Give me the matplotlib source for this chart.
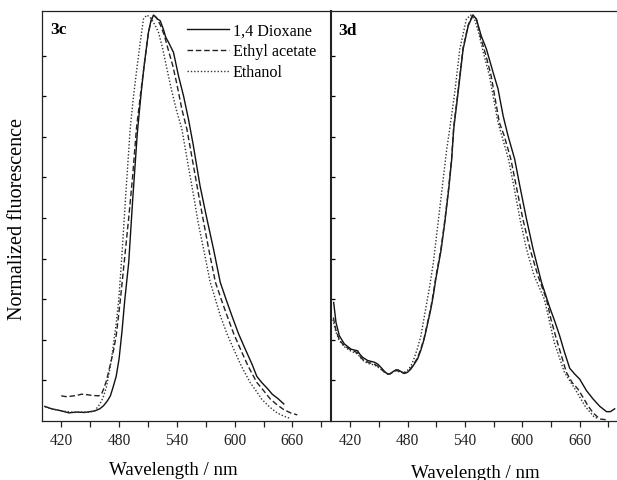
import matplotlib
matplotlib.use("Agg")
import matplotlib.pyplot as plt
from matplotlib.ticker import FixedLocator, MultipleLocator
from matplotlib.lines import Line2D

plt.rcParams['font.family'] = ['Liberation Serif', 'DejaVu Serif']

# ---------------- data: panel 3c ----------------
c_diox_wl = [403, 410, 420, 428, 436, 444, 450, 455, 460, 464, 468, 471, 474, 477, 480, 483, 486,
             490, 494, 499, 503, 506, 510.5, 513, 515.7, 518, 520, 522.7, 526, 528.5, 531.3, 536.5,
             541.7, 547, 552, 557, 564, 571, 578, 585, 591, 597, 604, 611, 618, 623, 628, 634, 639,
             645, 651]
c_diox_v = [0.036, 0.03, 0.025, 0.02, 0.022, 0.021, 0.023, 0.025, 0.03, 0.038, 0.05, 0.062, 0.085,
            0.11, 0.153, 0.22, 0.30, 0.39, 0.54, 0.711, 0.81, 0.875, 0.957, 0.985, 1.0, 0.995, 0.99,
            0.986, 0.965, 0.945, 0.933, 0.908, 0.85, 0.80, 0.744, 0.68, 0.58, 0.50, 0.424, 0.342,
            0.30, 0.26, 0.215, 0.177, 0.14, 0.11, 0.095, 0.08, 0.066, 0.055, 0.042]

c_etac_wl = [420, 425, 430, 436, 441, 446, 452, 459, 462, 464, 467, 469, 472, 474.5, 477, 479,
             481.4, 484, 487, 490, 494, 498, 502, 506, 510, 513, 516, 519, 523, 527, 531, 535.8,
             540, 545.2, 550.4, 556, 562, 567, 573, 580, 586, 592, 599, 606, 614, 623, 630, 637,
             644, 651, 658, 665]
c_etac_v = [0.062, 0.06, 0.061, 0.063, 0.066, 0.065, 0.063, 0.062, 0.068, 0.079, 0.1, 0.12, 0.15,
            0.177, 0.21, 0.25, 0.30, 0.36, 0.43, 0.50, 0.60, 0.72, 0.80, 0.875, 0.95, 0.985, 1.0,
            0.993, 0.975, 0.95, 0.915, 0.875, 0.83, 0.768, 0.719, 0.645, 0.565, 0.50, 0.424,
            0.342, 0.30, 0.26, 0.215, 0.177, 0.135, 0.095, 0.075, 0.054, 0.04, 0.028, 0.02, 0.015]

c_etoh_wl = [403, 410, 420, 430, 440, 450, 455, 459, 462, 464, 467, 469, 472, 474.5, 477, 479.7,
             483, 487, 491.5, 495, 498.4, 502, 505.3, 508.8, 512, 515, 518, 521, 525, 529, 534,
             539.3, 545.2, 551, 557, 562, 567.7, 574.6, 580, 585, 592, 599, 607, 616, 622, 628,
             636, 644, 651, 658]
c_etoh_v = [0.035, 0.03, 0.025, 0.022, 0.022, 0.022, 0.026, 0.038, 0.05, 0.062, 0.085, 0.11, 0.15,
            0.195, 0.24, 0.30, 0.41, 0.56, 0.719, 0.80, 0.867, 0.933, 0.99, 1.0, 0.995, 0.985,
            0.972, 0.957, 0.92, 0.875, 0.82, 0.768, 0.719, 0.64, 0.56, 0.49, 0.424, 0.342, 0.30,
            0.26, 0.215, 0.177, 0.135, 0.095, 0.075, 0.054, 0.035, 0.02, 0.012, 0.006]

# ---------------- data: panel 3d ----------------
d_diox_wl = [402.8, 405.2, 408.7, 413.9, 420.9, 424, 427.8, 430, 433, 438.3, 445.2, 449, 452.2,
             456, 459.2, 462, 465, 467.8, 470, 473, 476.5, 480, 483.5, 487, 490.5, 494, 497.4,
             501, 504.4, 507, 509.6, 515, 519, 523, 526, 528.3, 532.9, 538.1, 543.5, 548.5, 552,
             557, 562.5, 569.4, 574.6, 579.9, 585, 592, 597.3, 604.3, 611.2, 620, 628.6, 634, 639,
             644, 649.5, 655, 660, 667, 674, 681, 688, 692, 696.5]
d_diox_v = [0.292, 0.243, 0.21, 0.19, 0.177, 0.175, 0.173, 0.165, 0.157, 0.149, 0.145, 0.14,
            0.132, 0.122, 0.116, 0.116, 0.122, 0.126, 0.126, 0.122, 0.118, 0.12, 0.128, 0.14,
            0.153, 0.175, 0.202, 0.24, 0.276, 0.31, 0.35, 0.42, 0.49, 0.57, 0.64, 0.72, 0.81,
            0.916, 0.974, 1.0, 0.99, 0.949, 0.916, 0.859, 0.818, 0.752, 0.703, 0.645, 0.58, 0.498,
            0.424, 0.342, 0.28, 0.245, 0.21, 0.17, 0.13, 0.115, 0.103, 0.075, 0.054, 0.036, 0.023,
            0.023, 0.03]

d_etac_wl = [402.5, 405, 408.7, 413.9, 420.9, 424, 427.8, 430, 433, 438.3, 445.2, 449, 452.2, 456,
             459.2, 462, 465, 467.8, 470, 473, 476.5, 480, 483.5, 487, 490.5, 494, 497.4, 501,
             504.4, 507, 509.6, 515, 519, 523, 526, 528.3, 532.9, 538.1, 543.5, 548, 552, 557, 562,
             567.4, 576, 581, 588, 593.5, 600.5, 608, 616, 625.2, 630, 635.6, 641, 646, 652, 658,
             663, 668.5, 674, 680.8, 687.8]
d_etac_v = [0.255, 0.225, 0.2, 0.185, 0.175, 0.172, 0.168, 0.16, 0.152, 0.145, 0.14, 0.135, 0.128,
            0.12, 0.115, 0.117, 0.122, 0.124, 0.124, 0.12, 0.117, 0.12, 0.13, 0.142, 0.156, 0.178,
            0.205, 0.243, 0.28, 0.315, 0.355, 0.425, 0.495, 0.575, 0.645, 0.725, 0.815, 0.92,
            0.976, 1.0, 0.99, 0.94, 0.9, 0.85, 0.735, 0.703, 0.645, 0.58, 0.498, 0.424, 0.36,
            0.30, 0.25, 0.202, 0.16, 0.12, 0.095, 0.079, 0.06, 0.038, 0.02, 0.005, 0.003]

d_etoh_wl = [402, 405, 408.7, 413.9, 420.9, 427.8, 433, 438.3, 445.2, 452.2, 459.2, 463, 467.8,
             473, 476.5, 480, 483.5, 487, 490.5, 494, 497, 500, 503, 507, 510, 514, 518, 521,
             524.1, 529.4, 534.6, 541.5, 546, 550, 554, 558, 565.6, 574.6, 578.5, 585.5, 591,
             597.5, 604.3, 612, 623, 633.6, 644, 656, 666, 675, 680]
d_etoh_v = [0.25, 0.22, 0.198, 0.183, 0.172, 0.165, 0.15, 0.142, 0.138, 0.128, 0.115, 0.118,
            0.124, 0.12, 0.12, 0.125, 0.135, 0.155, 0.18, 0.21, 0.25, 0.29, 0.33, 0.39, 0.45,
            0.53, 0.61, 0.67, 0.72, 0.81, 0.916, 0.99, 1.0, 0.99, 0.96, 0.92, 0.85, 0.735, 0.703,
            0.645, 0.58, 0.498, 0.424, 0.36, 0.30, 0.192, 0.12, 0.075, 0.035, 0.01, 0.005]

series_labels = ["1,4 Dioxane", "Ethyl acetate", "Ethanol"]
panel_labels = ["3c", "3d"]
xticks_major = [420, 480, 540, 600, 660]
xlabel = "Wavelength / nm"
ylabel = "Normalized fluorescence"

# ---------------- figure ----------------
W, H = 617, 481
fig = plt.figure(figsize=(W / 100, H / 100), dpi=100)

def ax_rect(x0, x1, y0, y1):
    return [x0 / W, 1 - y1 / H, (x1 - x0) / W, (y1 - y0) / H]

ax1 = fig.add_axes(ax_rect(42, 331, 12, 422))
ax2 = fig.add_axes(ax_rect(331, 618, 12, 422))

styles = [dict(color='#111111', lw=1.0, ls='-'),
          dict(color='#222222', lw=1.0, ls=(0, (4, 2))),
          dict(color='#333333', lw=1.0, ls=(0, (1, 1.4)))]

for wl, v, st in zip([c_diox_wl, c_etac_wl, c_etoh_wl], [c_diox_v, c_etac_v, c_etoh_v], styles):
    ax1.plot(wl, v, **st)
for wl, v, st in zip([d_diox_wl, d_etac_wl, d_etoh_wl], [d_diox_v, d_etac_v, d_etoh_v], styles):
    ax2.plot(wl, v, **st)

for ax in (ax1, ax2):
    ax.set_xlim(400, 700)
    ax.set_ylim(0, 1.01)
    ax.xaxis.set_major_locator(FixedLocator(xticks_major))
    ax.xaxis.set_minor_locator(MultipleLocator(30))
    ax.tick_params(axis='x', which='both', direction='out', length=4, width=0.9,
                   labelsize=11.2, pad=4, colors='#222222')
    ax.yaxis.set_major_locator(FixedLocator([0.1 * i for i in range(1, 10)]))
    ax.tick_params(axis='y', which='both', direction='in', length=3, width=0.9,
                   labelleft=False, left=True, right=False)
    ax.yaxis.set_minor_locator(FixedLocator([]))
    for s in ax.spines.values():
        s.set_linewidth(0.9)
        s.set_color('#222222')

ax1.spines['right'].set_visible(False)
ax2.spines['right'].set_visible(False)
ax2.spines['left'].set_linewidth(1.5)

ax1.text(0.028, 0.975, panel_labels[0], transform=ax1.transAxes, ha='left', va='top',
         fontsize=12.5, fontweight='bold')
ax2.text(0.024, 0.972, panel_labels[1], transform=ax2.transAxes, ha='left', va='top',
         fontsize=12.5, fontweight='bold')

handles = [Line2D([], [], **st) for st in styles]
ax1.legend(handles, series_labels, loc='upper right', bbox_to_anchor=(0.948, 0.972),
           frameon=False, fontsize=11.6, handlelength=2.6, handletextpad=0.25,
           labelspacing=0.3, borderpad=0.0, borderaxespad=0.0)

fig.text(173 / W, 1 - 471 / H, xlabel, ha='center', va='center', fontsize=13.6)
fig.text(475 / W, 1 - 474 / H, xlabel, ha='center', va='center', fontsize=13.6)
fig.text(18 / W, 1 - 219 / H, ylabel, ha='center', va='center', rotation=90, fontsize=14.5)

fig.savefig("out.png", dpi=100)
